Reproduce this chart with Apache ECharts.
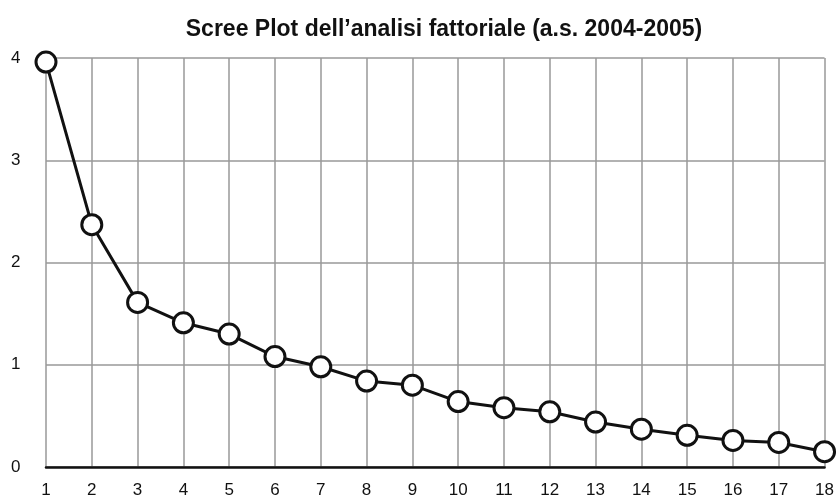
<!DOCTYPE html>
<html>
<head>
<meta charset="utf-8">
<script src="https://cdn.jsdelivr.net/npm/echarts@6/dist/echarts.min.js"></script>
<style>
  html, body { margin: 0; padding: 0; background: #fff; }
  #main { width: 837px; height: 499px; }
</style>
</head>
<body>
<div id="main"></div>
<script>
// numero del fattore e autovalore
var factors = [1, 2, 3, 4, 5, 6, 7, 8, 9, 10, 11, 12, 13, 14, 15, 16, 17, 18];
var eigenvalues = [3.96, 2.37, 1.61, 1.41, 1.30, 1.08, 0.98, 0.84, 0.80, 0.64, 0.58, 0.54, 0.44, 0.37, 0.31, 0.26, 0.24, 0.15];
var yTicks = [0, 1, 2, 3, 4];

var chart = echarts.init(document.getElementById('main'));

var font = 'Liberation Sans, Arial, Helvetica, sans-serif';

var option = {
  backgroundColor: '#fff',
  animation: false,
  title: {
    text: 'Scree Plot dell\u2019analisi fattoriale (a.s. 2004-2005)',
    left: 439,
    textAlign: 'center',
    top: 13,
    textStyle: { fontFamily: font, fontSize: 23, fontWeight: 'bold', color: '#111' }
  },
  grid: { left: 46, right: 6, top: 58, bottom: 31 },
  xAxis: {
    type: 'value',
    min: 1,
    max: 18,
    interval: 1,
    axisLine: { show: true, lineStyle: { color: '#111', width: 2.5 } },
    axisTick: { show: false },
    axisLabel: { margin: 15, fontFamily: font, fontSize: 17, color: '#111', showMaxLabel: true },
    splitLine: { show: true, lineStyle: { color: '#999', width: 1.5 } }
  },
  yAxis: {
    type: 'value',
    min: yTicks[0],
    max: yTicks[yTicks.length - 1],
    interval: 1,
    axisLine: { show: false },
    axisTick: { show: false },
    axisLabel: { margin: 35, fontFamily: font, fontSize: 17, color: '#111', align: 'left' },
    splitLine: { show: true, lineStyle: { color: '#999', width: 1.5 } }
  },
  series: [{
    type: 'line',
    data: factors.map(function (f, i) { return [f, eigenvalues[i]]; }),
    symbol: 'circle',
    symbolSize: 20,
    lineStyle: { color: '#111', width: 3 },
    itemStyle: { color: '#fff', borderColor: '#111', borderWidth: 3 },
    clip: false,
    z: 5
  }]
};

chart.setOption(option);
</script>
</body>
</html>
